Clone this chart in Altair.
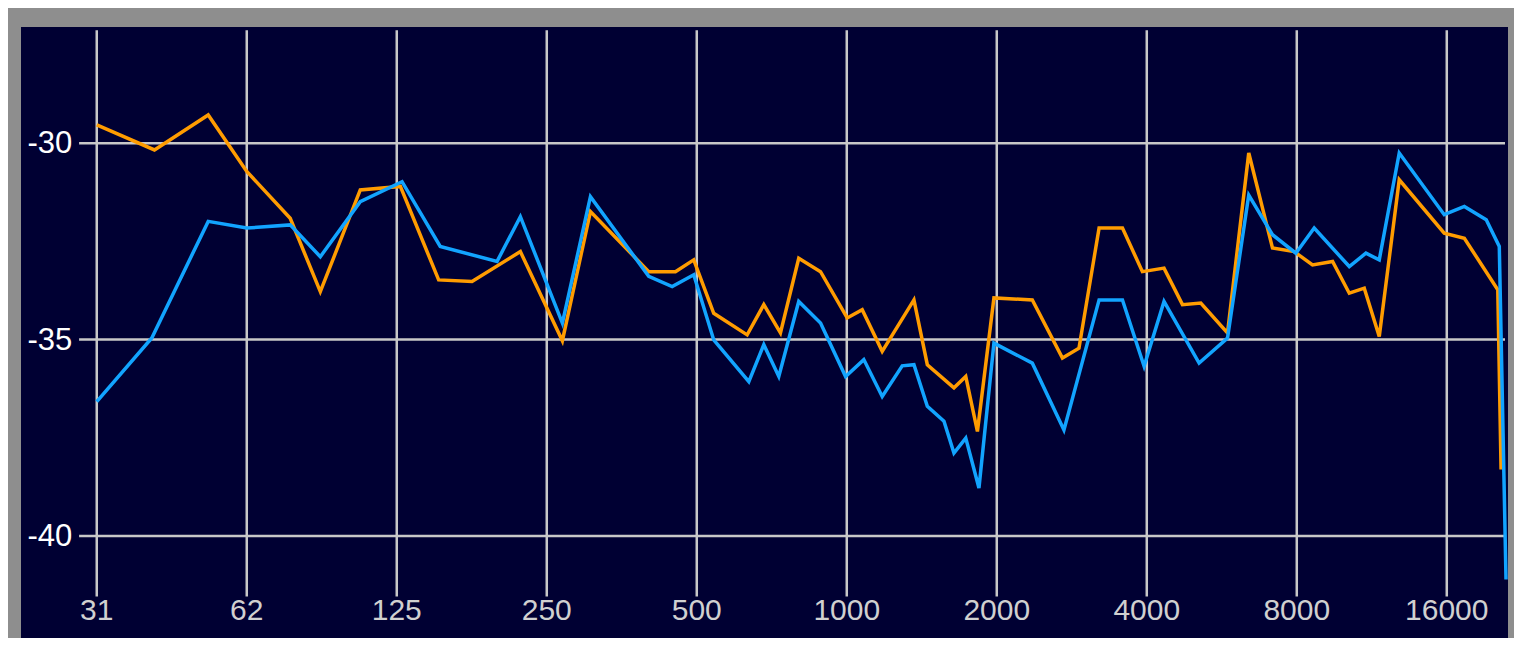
import altair as alt
import pandas as pd

# --- data ---
TICK_FREQS = [31.25, 62.5, 125, 250, 500, 1000, 2000, 4000, 8000, 16000]
TICK_LABELS = ["31", "62", "125", "250", "500", "1000", "2000", "4000", "8000", "16000"]
Y_TICKS = [-30, -35, -40]
Y_LABELS = ["-30", "-35", "-40"]

freq_orange = [31.25, 40.8, 52.3, 62.5, 76.4, 87.8, 105.6, 127.1, 151.7, 177, 221.3, 268.7,
               305.9, 400.5, 453.1, 493.1, 540.8, 631.1, 681.6, 736.1, 801, 885.9, 1002, 1074,
               1178, 1364, 1451, 1641, 1733, 1829, 1974, 2357, 2709, 2924, 3209, 3575, 3920,
               4332, 4717, 5134, 5809, 6408, 7151, 7906, 8604, 9440, 10197, 10928, 11712,
               12845, 15813, 17353, 20253, 20563]
db_orange = [-29.53, -30.17, -29.28, -30.72, -31.91, -33.78, -31.19, -31.10, -33.48, -33.52,
             -32.76, -35.03, -31.74, -33.27, -33.27, -32.97, -34.33, -34.88, -34.11, -34.83,
             -32.93, -33.27, -34.45, -34.24, -35.30, -33.99, -35.64, -36.23, -35.94, -37.34,
             -33.94, -33.99, -35.47, -35.22, -32.16, -32.16, -33.27, -33.18, -34.11, -34.07,
             -34.83, -30.25, -32.67, -32.76, -33.10, -33.01, -33.82, -33.69, -34.92, -30.93,
             -32.29, -32.42, -33.73, -38.31]

freq_blue = [31.25, 40.3, 52.3, 62.5, 76.4, 87.8, 105.6, 128.1, 152.8, 198.7, 221.3, 268.7,
             305.9, 400.5, 446.3, 493.1, 540.8, 636, 681.6, 730.5, 801, 885.9, 994.5, 1082,
             1178, 1292, 1364, 1451, 1567, 1641, 1733, 1842, 1974, 2357, 2728, 3209, 3575,
             3951, 4332, 5094, 5809, 6408, 7151, 7966, 8671, 10197, 11012, 11712, 12845,
             15813, 17353, 19200, 20394, 21038]
db_blue = [-36.58, -34.96, -31.99, -32.16, -32.08, -32.89, -31.49, -30.98, -32.63, -33.01,
           -31.87, -34.58, -31.36, -33.39, -33.65, -33.35, -35.01, -36.07, -35.13, -35.94,
           -34.03, -34.58, -35.94, -35.51, -36.45, -35.67, -35.64, -36.70, -37.08, -37.89,
           -37.51, -38.78, -35.09, -35.60, -37.30, -33.99, -33.99, -35.68, -34.03, -35.60,
           -34.96, -31.32, -32.33, -32.80, -32.16, -33.14, -32.80, -32.97, -30.25, -31.82,
           -31.61, -31.95, -32.63, -41.11]

# extents (data units)
X_DOMAIN = [22.02, 21232]
Y_DOMAIN = [-42.6, -27.04]
VGRID_TOP, VGRID_BOTTOM = -27.12, -41.54
HGRID_LEFT, HGRID_RIGHT = 28.8, 20940
XLABEL_DB = -41.89       # level of the frequency labels
YLABEL_FREQ = 27.9       # right edge of the dB labels

BG = "#000033"
GRID = "#C8C8C8"
ORANGE = "#FF9C00"
BLUE = "#12A4FF"
FONT = "Liberation Sans Narrow, Liberation Sans, Arial"

xs = alt.Scale(type="log", domain=X_DOMAIN, nice=False)
ys = alt.Scale(domain=Y_DOMAIN, nice=False, zero=False)

vgrid_df = pd.DataFrame({"f": TICK_FREQS, "y1": VGRID_TOP, "y2": VGRID_BOTTOM,
                         "lab": TICK_LABELS, "ly": XLABEL_DB})
hgrid_df = pd.DataFrame({"db": Y_TICKS, "x1": HGRID_LEFT, "x2": HGRID_RIGHT,
                         "lab": Y_LABELS, "lx": YLABEL_FREQ})
orange_df = pd.DataFrame({"f": freq_orange, "db": db_orange})
blue_df = pd.DataFrame({"f": freq_blue, "db": db_blue})

vgrid = alt.Chart(vgrid_df).mark_rule(color=GRID, strokeWidth=2.5).encode(
    x=alt.X("f:Q", scale=xs, axis=None),
    y=alt.Y("y1:Q", scale=ys, axis=None),
    y2="y2:Q",
)
xlabels = alt.Chart(vgrid_df).mark_text(
    color="#D0D0D0", font=FONT, fontSize=30, align="center", baseline="middle", dy=1
).encode(
    x=alt.X("f:Q", scale=xs, axis=None),
    y=alt.Y("ly:Q", scale=ys, axis=None),
    text="lab:N",
)
hgrid = alt.Chart(hgrid_df).mark_rule(color=GRID, strokeWidth=2.5).encode(
    x=alt.X("x1:Q", scale=xs, axis=None),
    x2="x2:Q",
    y=alt.Y("db:Q", scale=ys, axis=None),
)
ylabels = alt.Chart(hgrid_df).mark_text(
    color="#FFFFFF", font=FONT, fontSize=31, align="right", baseline="middle", dy=1
).encode(
    x=alt.X("lx:Q", scale=xs, axis=None),
    y=alt.Y("db:Q", scale=ys, axis=None),
    text="lab:N",
)
orange = alt.Chart(orange_df).mark_line(color=ORANGE, strokeWidth=3.5).encode(
    x=alt.X("f:Q", scale=xs, axis=None),
    y=alt.Y("db:Q", scale=ys, axis=None),
    order="f:Q",
)
blue = alt.Chart(blue_df).mark_line(color=BLUE, strokeWidth=3.5).encode(
    x=alt.X("f:Q", scale=xs, axis=None),
    y=alt.Y("db:Q", scale=ys, axis=None),
    order="f:Q",
)

chart = alt.layer(vgrid, hgrid, xlabels, ylabels, orange, blue).properties(
    width=1487, height=611,
    background="#8E8E8E",
    padding={"left": 13, "top": 19, "right": 0, "bottom": 0},
).configure_view(fill=BG, stroke=None)

chart.save("out.html", embed_options={"renderer": "svg", "actions": False})
